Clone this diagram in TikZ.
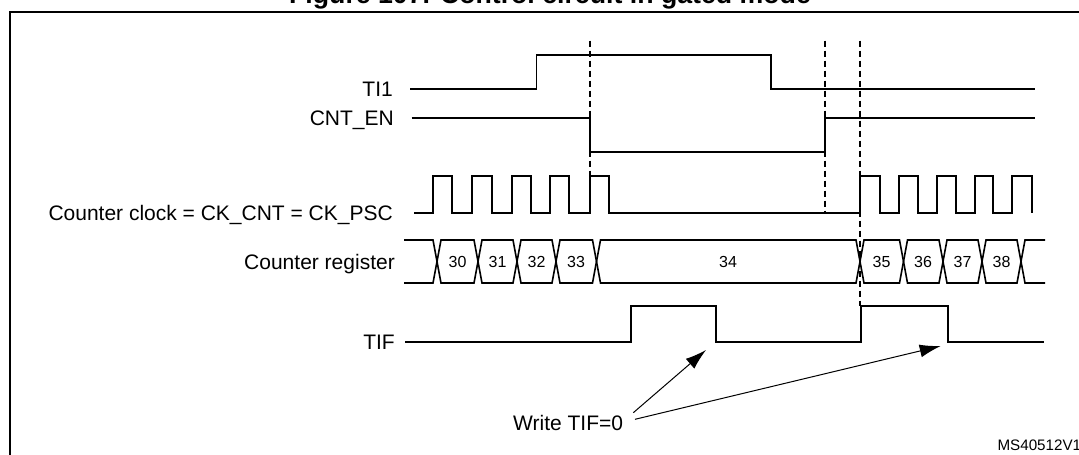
\documentclass[tikz,border=0pt]{standalone}
\usepackage{fontspec}
\setmainfont{Liberation Sans}
\usetikzlibrary{arrows.meta}
\begin{document}
\begin{tikzpicture}[x=1pt,y=-1pt,
  wave/.style={line width=1.8pt, line join=miter},
  bus/.style={line width=1.6pt, line join=miter},
  guide/.style={line width=1.2pt, dash pattern=on 6pt off 4pt},
  lbl/.style={font=\fontsize{21}{25}\selectfont, inner sep=0pt, anchor=base east},
  val/.style={font=\fontsize{16}{19}\selectfont, inner sep=0pt, anchor=base},
  ptr/.style={line width=1pt, -{Latex[length=21pt,width=13pt]}}]
\useasboundingbox (0,0) rectangle (1079,455);
\clip (0,0) rectangle (1079,455);
% title (cut at the top, as in the reference)
\node[font=\bfseries\fontsize{26.7}{30}\selectfont, inner sep=0pt, anchor=base] (title) at (550,4) {Figure 107. Control circuit in gated mode};
% frame
\draw[line width=2pt] (10.3,470) |- (1095,12.4);
% labels
\node[lbl] (lti)  at (393,96.3)  {TI1};
\node[lbl] (lcnt) at (394,125.5) {CNT\_EN};
\node[lbl] (lclk) at (393,220.8) {Counter clock = CK\_CNT = CK\_PSC};
\node[lbl] (lreg) at (395,269.2) {Counter register};
\node[lbl] (ltif) at (395,349.2) {TIF};
% guides
\draw[guide] (590,40.6) -- (590,176);
\draw[guide] (825,40.6) -- (825,213);
\draw[guide] (860,40.6) -- (860,306);
% TI1
\draw[wave] (410,89) -| (536.5,55) -| (770.7,89) -- (1035,89);
% CNT_EN
\draw[wave] (411.5,118) -| (590,152) -| (825,118) -- (1035,118);
% clock
\draw[wave] (414,213) -| (433,176) -| (452,213) -| (472,176) -| (492,213)
  -| (512,176) -| (531,213) -| (550,176) -| (569,213) -| (590,176) -| (609,213)
  -| (860,176) -| (880,213) -| (899,176) -| (918,213) -| (937,176) -| (956,213)
  -| (975,176) -| (993,213) -| (1012,176) -| (1032,213);
% counter register
\draw[bus] (404,240) -- (433,240) -- (437,261.5) -- (433,283) -- (404,283);
\foreach \a/\b in {437/478, 478/517, 517/556, 556/596.5, 596.5/860, 860/903.5, 903.5/943, 943/982, 982/1021}
  \draw[bus] (\a+4,240) -- (\b-4,240) -- (\b,261.5) -- (\b-4,283) -- (\a+4,283) -- (\a,261.5) -- cycle;
\draw[bus] (1045,240) -- (1025,240) -- (1021,261.5) -- (1025,283) -- (1045,283);
\node[val] (v30) at (457.5,267.5) {30};
\node[val] (v31) at (497.5,267.5) {31};
\node[val] (v32) at (536.5,267.5) {32};
\node[val] (v33) at (576,267.5) {33};
\node[val] (v34) at (728,267.5) {34};
\node[val] (v35) at (881.5,267.5) {35};
\node[val] (v36) at (923,267.5) {36};
\node[val] (v37) at (962.5,267.5) {37};
\node[val] (v38) at (1001.5,267.5) {38};
% TIF
\draw[wave] (405,342) -| (631,306) -| (715.7,342) -| (860.7,306) -| (948,342) -- (1044,342);
% write TIF=0
\node[lbl] (lwrite) at (623.3,430.7) {Write TIF=0};
\coordinate (w1) at (633.3,412.7);
\coordinate (w2) at (635,419.3);
\coordinate (t1) at (706,350);
\coordinate (t2) at (940.7,346);
\draw[ptr] (w1) -- (t1);
\draw[ptr] (w2) -- (t2);
\node[font=\fontsize{15.2}{18}\selectfont, inner sep=0pt, anchor=base west] (lms) at (997.3,450) {MS40512V1};
\end{tikzpicture}
\end{document}
